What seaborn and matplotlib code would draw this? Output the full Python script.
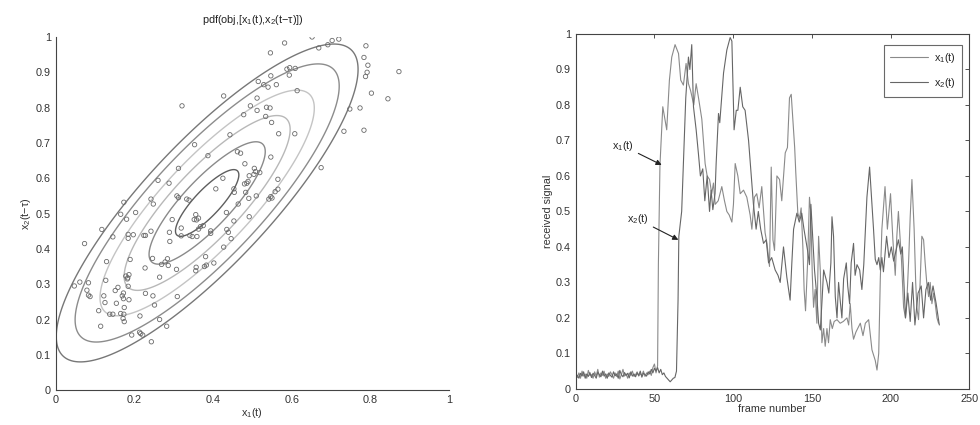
import numpy as np
import pandas as pd
import matplotlib
matplotlib.use("Agg")
import matplotlib.pyplot as plt
import seaborn as sns

# ---------------- left panel data: scatter of x1(t) vs x2(t - tau) ----------------
scatter_x1 = [0.652, 0.582, 0.703, 0.720, 0.692, 0.669, 0.789, 0.784, 0.794, 0.792, 0.788, 0.873,
              0.803, 0.845, 0.774, 0.748, 0.733, 0.784, 0.675, 0.546, 0.588, 0.595, 0.609, 0.594,
              0.614, 0.547, 0.515, 0.529, 0.540, 0.561, 0.512, 0.427, 0.321, 0.495, 0.512, 0.536,
              0.545, 0.534, 0.478, 0.549, 0.443, 0.567, 0.608, 0.462, 0.470, 0.547, 0.387, 0.481,
              0.353, 0.312, 0.425, 0.505, 0.508, 0.519, 0.504, 0.492, 0.486, 0.480, 0.489, 0.565,
              0.407, 0.453, 0.454, 0.483, 0.491, 0.510, 0.565, 0.558, 0.547, 0.542, 0.550, 0.464,
              0.434, 0.453, 0.492, 0.435, 0.439, 0.446, 0.427, 0.402, 0.381, 0.378, 0.383, 0.357,
              0.356, 0.394, 0.394, 0.368, 0.363, 0.375, 0.356, 0.352, 0.358, 0.363, 0.359, 0.347,
              0.341, 0.319, 0.319, 0.308, 0.312, 0.333, 0.339, 0.296, 0.289, 0.290, 0.307, 0.286,
              0.284, 0.278, 0.269, 0.260, 0.288, 0.242, 0.248, 0.242, 0.228, 0.224, 0.197, 0.184,
              0.184, 0.203, 0.180, 0.173, 0.165, 0.145, 0.117, 0.073, 0.129, 0.189, 0.127, 0.178,
              0.183, 0.182, 0.186, 0.227, 0.264, 0.309, 0.184, 0.151, 0.158, 0.169, 0.172, 0.186,
              0.172, 0.154, 0.174, 0.165, 0.171, 0.174, 0.173, 0.145, 0.137, 0.125, 0.122, 0.109,
              0.114, 0.083, 0.079, 0.087, 0.083, 0.061, 0.047, 0.193, 0.213, 0.216, 0.221, 0.214,
              0.243, 0.228, 0.247, 0.251, 0.264, 0.282, 0.246]
scatter_x2 = [1.000, 0.983, 0.990, 0.994, 0.978, 0.969, 0.975, 0.942, 0.920, 0.900, 0.888, 0.902,
              0.841, 0.825, 0.799, 0.796, 0.733, 0.736, 0.630, 0.955, 0.909, 0.913, 0.911, 0.892,
              0.848, 0.890, 0.874, 0.865, 0.858, 0.865, 0.827, 0.833, 0.805, 0.805, 0.792, 0.801,
              0.799, 0.775, 0.780, 0.758, 0.723, 0.726, 0.726, 0.675, 0.671, 0.660, 0.664, 0.641,
              0.695, 0.628, 0.600, 0.628, 0.619, 0.616, 0.611, 0.607, 0.586, 0.584, 0.591, 0.597,
              0.570, 0.570, 0.560, 0.560, 0.543, 0.550, 0.569, 0.562, 0.548, 0.541, 0.544, 0.527,
              0.503, 0.479, 0.491, 0.455, 0.447, 0.429, 0.405, 0.360, 0.378, 0.350, 0.354, 0.348,
              0.338, 0.451, 0.444, 0.463, 0.456, 0.466, 0.497, 0.483, 0.482, 0.487, 0.435, 0.435,
              0.438, 0.437, 0.459, 0.550, 0.545, 0.541, 0.538, 0.483, 0.447, 0.421, 0.342, 0.353,
              0.372, 0.363, 0.356, 0.594, 0.586, 0.541, 0.527, 0.450, 0.438, 0.438, 0.440, 0.441,
              0.430, 0.503, 0.484, 0.532, 0.498, 0.434, 0.455, 0.415, 0.364, 0.370, 0.311, 0.323,
              0.318, 0.315, 0.327, 0.346, 0.320, 0.265, 0.294, 0.282, 0.291, 0.267, 0.259, 0.256,
              0.275, 0.246, 0.234, 0.217, 0.203, 0.194, 0.215, 0.215, 0.215, 0.248, 0.267, 0.225,
              0.181, 0.269, 0.283, 0.265, 0.304, 0.306, 0.295, 0.156, 0.164, 0.160, 0.156, 0.210,
              0.137, 0.274, 0.267, 0.241, 0.200, 0.181, 0.373]

# fitted bivariate normal (pdf object)
pdf_mean = [0.385, 0.53]
pdf_sd = [0.192, 0.225]
pdf_rho = 0.84
contour_mahal = [0.42, 0.77, 1.1, 1.42, 1.75, 2.0]
contour_grays = ["#5e5e5e", "#8a8a8a", "#b8b8b8", "#c4c4c4", "#8c8c8c", "#777777"]

# ---------------- right panel data: received signals ----------------
x1_base = [0.035, 0.032, 0.045, 0.030, 0.050, 0.036, 0.042, 0.030, 0.052, 0.038, 0.040, 0.030,
           0.048, 0.036, 0.055, 0.033, 0.045, 0.038, 0.050, 0.030, 0.042, 0.035, 0.048, 0.040,
           0.030, 0.045, 0.035, 0.050, 0.028, 0.040, 0.055, 0.036, 0.042, 0.030, 0.045, 0.038,
           0.050, 0.035, 0.040, 0.048, 0.036, 0.043, 0.038, 0.050, 0.035, 0.045, 0.040, 0.050,
           0.038, 0.060, 0.070, 0.045, 0.065]
x2_base = [0.040, 0.038, 0.030, 0.044, 0.036, 0.048, 0.030, 0.042, 0.035, 0.046, 0.032, 0.044,
           0.038, 0.030, 0.047, 0.040, 0.034, 0.050, 0.036, 0.042, 0.030, 0.045, 0.038, 0.033,
           0.048, 0.037, 0.042, 0.030, 0.052, 0.040, 0.034, 0.046, 0.038, 0.044, 0.031, 0.048,
           0.036, 0.042, 0.034, 0.045, 0.038, 0.050, 0.033, 0.044, 0.040, 0.036, 0.048, 0.042,
           0.055, 0.045, 0.058, 0.050, 0.060, 0.045, 0.055, 0.040, 0.045, 0.035, 0.030, 0.025,
           0.020, 0.025, 0.030, 0.032]
x1_frames = [52.5, 53.5, 55.3, 57.8, 59.5, 61, 63.1, 65.3, 66.7, 68.4, 70.1, 71.6, 73, 75, 76.5, 78,
             80.1, 82.2, 83.5, 85, 86.4, 87.5, 88.6, 90.5, 92.8, 94.5, 96, 97.5, 99.2, 100.2, 101.3,
             103, 104.5, 106.6, 108.7, 110.8, 111.9, 113.5, 115, 116.5, 118.2, 120.3, 121.5, 123.1,
             124.2, 125.3, 126.3, 127.8, 129.5, 130.9, 133.1, 134.5, 135.8, 136.9, 138.4, 139.1,
             139.8, 141.1, 142.2, 143.2, 144.3, 145.1, 146, 147.3, 148.5, 149.3, 150.3, 151.1,
             152.1, 153.2, 154.3, 155.4, 156.4, 157.5, 158.5, 159.6, 160.6, 161.7, 163, 164.2, 166,
             168, 170, 172.3, 173.4, 174.4, 175.5, 176.5, 178, 180.8, 182.5, 184, 186.1, 188.2,
             190.3, 191.4, 192.5, 193.5, 194.5, 196.5, 198, 200, 201.5, 203, 204, 205, 207, 208.3,
             209.5, 210.5, 211.5, 212.5, 213.6, 215, 216, 216.7, 217.8, 218.8, 219.9, 221, 222, 223,
             224.2, 225.2, 226.3, 227.3, 228.4, 229.5, 230.5]
x1_values = [0.35, 0.63, 0.795, 0.73, 0.87, 0.935, 0.97, 0.945, 0.87, 0.856, 0.917, 0.86, 0.84, 0.80,
             0.86, 0.82, 0.76, 0.635, 0.60, 0.59, 0.55, 0.58, 0.52, 0.53, 0.57, 0.53, 0.50, 0.49,
             0.47, 0.52, 0.635, 0.60, 0.55, 0.56, 0.54, 0.49, 0.45, 0.54, 0.55, 0.51, 0.57, 0.44,
             0.41, 0.345, 0.625, 0.42, 0.39, 0.60, 0.59, 0.53, 0.665, 0.68, 0.82, 0.83, 0.73, 0.68,
             0.61, 0.495, 0.48, 0.51, 0.40, 0.28, 0.22, 0.355, 0.54, 0.50, 0.32, 0.23, 0.28, 0.185,
             0.43, 0.33, 0.13, 0.17, 0.12, 0.17, 0.13, 0.195, 0.17, 0.19, 0.195, 0.185, 0.19, 0.20,
             0.18, 0.24, 0.17, 0.14, 0.16, 0.185, 0.15, 0.185, 0.195, 0.11, 0.08, 0.053, 0.10, 0.31,
             0.45, 0.57, 0.45, 0.55, 0.42, 0.32, 0.43, 0.50, 0.36, 0.23, 0.20, 0.26, 0.36, 0.485,
             0.59, 0.45, 0.30, 0.23, 0.195, 0.30, 0.43, 0.42, 0.355, 0.30, 0.26, 0.30, 0.24, 0.27,
             0.24, 0.20, 0.185]
x2_frames = [64, 65, 65.5, 67.3, 68.4, 69.9, 71.6, 72.5, 73.7, 74.8, 76.5, 78, 79.2, 80.7, 82, 83.5,
             85, 86, 87.1, 88.5, 89.2, 90.7, 91.5, 93.9, 96, 98.1, 99.2, 100.6, 102, 103, 104.5,
             106.1, 107.6, 109.8, 111.2, 112.9, 114.6, 116, 117.5, 119.3, 121, 122.5, 124.5, 126.7,
             128.5, 129.9, 132, 134.1, 136.2, 137.3, 138.4, 140.5, 142, 143.6, 145, 147.3, 148.5,
             149.4, 150.5, 151.7, 153.2, 154.3, 155.4, 156.5, 157.5, 159.6, 160.8, 162.1, 162.8,
             163.8, 164.9, 166, 167, 168, 169.1, 170.2, 171.9, 172.8, 174, 175, 176.5, 177.5, 178.7,
             180.4, 181.8, 183, 185, 186.7, 188.2, 189.2, 190.3, 191.4, 192.5, 193.5, 194.5, 195.5,
             197.5, 199, 200.5, 202, 203.5, 205, 206.5, 207.5, 208.5, 209.5, 211, 212.5, 214, 215.5,
             217.5, 219.5, 221, 222.5, 224, 225.5, 227, 229, 231]
x2_values = [0.05, 0.25, 0.43, 0.50, 0.635, 0.82, 0.935, 0.90, 0.97, 0.795, 0.73, 0.66, 0.60, 0.62,
             0.53, 0.60, 0.50, 0.56, 0.505, 0.55, 0.635, 0.776, 0.75, 0.89, 0.955, 0.99, 0.98, 0.73,
             0.785, 0.785, 0.85, 0.795, 0.785, 0.70, 0.62, 0.52, 0.45, 0.50, 0.45, 0.41, 0.42,
             0.355, 0.37, 0.335, 0.32, 0.30, 0.40, 0.315, 0.25, 0.355, 0.45, 0.495, 0.47, 0.495,
             0.45, 0.39, 0.35, 0.52, 0.43, 0.335, 0.26, 0.185, 0.166, 0.25, 0.335, 0.30, 0.27,
             0.355, 0.485, 0.43, 0.26, 0.20, 0.30, 0.25, 0.20, 0.31, 0.355, 0.29, 0.24, 0.355, 0.41,
             0.32, 0.35, 0.335, 0.28, 0.35, 0.54, 0.625, 0.52, 0.45, 0.365, 0.35, 0.37, 0.335, 0.37,
             0.33, 0.43, 0.37, 0.40, 0.36, 0.39, 0.42, 0.38, 0.40, 0.30, 0.20, 0.27, 0.19, 0.30,
             0.18, 0.27, 0.29, 0.20, 0.28, 0.30, 0.25, 0.29, 0.24, 0.18]
series_labels = ["x$_1$(t)", "x$_2$(t)"]
series_colors = ["#8a8a8a", "#666666"]

# ---------------- figure ----------------
sns.set_theme(style="white")
plt.rcParams["font.family"] = ["Liberation Sans", "DejaVu Sans"]
plt.rcParams["mathtext.fontset"] = "custom"
plt.rcParams["mathtext.rm"] = "Liberation Sans"
plt.rcParams["mathtext.it"] = "Liberation Sans"

fig = plt.figure(figsize=(9.8, 4.25), dpi=100)
fig.patch.set_facecolor("white")
axL = fig.add_axes([0.057, 0.082, 0.401, 0.831])
axR = fig.add_axes([0.5875, 0.085, 0.4015, 0.835])

fs = 7.8
# --- left: contours + scatter
g = np.linspace(-0.1, 1.1, 400)
GX, GY = np.meshgrid(g, g)
zx = (GX - pdf_mean[0]) / pdf_sd[0]
zy = (GY - pdf_mean[1]) / pdf_sd[1]
q = (zx ** 2 - 2 * pdf_rho * zx * zy + zy ** 2) / (1 - pdf_rho ** 2)
dens = np.exp(-0.5 * q) / (2 * np.pi * pdf_sd[0] * pdf_sd[1] * np.sqrt(1 - pdf_rho ** 2))
peak = 1 / (2 * np.pi * pdf_sd[0] * pdf_sd[1] * np.sqrt(1 - pdf_rho ** 2))
levels_sorted = sorted([(peak * np.exp(-0.5 * d ** 2), c) for d, c in zip(contour_mahal, contour_grays)])
axL.contour(GX, GY, dens, levels=[l for l, _ in levels_sorted],
            colors=[c for _, c in levels_sorted], linewidths=1.0)

sdf = pd.DataFrame({"x1": scatter_x1, "x2": scatter_x2})
sns.scatterplot(data=sdf, x="x1", y="x2", ax=axL, marker="o", s=10,
                facecolors="none", edgecolor="#6a6a6a", linewidth=0.6, zorder=3)
axL.set_xlim(0, 1)
axL.set_ylim(0, 1)
axL.set_xticks([0, 0.2, 0.4, 0.6, 0.8, 1])
axL.set_xticklabels(["0", "0.2", "0.4", "0.6", "0.8", "1"])
axL.set_yticks(np.round(np.arange(0, 1.01, 0.1), 1))
axL.set_yticklabels(["0"] + [f"{v:.1f}" for v in np.arange(0.1, 0.95, 0.1)] + ["1"])
axL.set_xlabel("x$_1$(t)", fontsize=fs, labelpad=1, color="#333333")
axL.set_ylabel("x$_2$(t\u2212\u03c4)", fontsize=fs, labelpad=2, color="#333333")
axL.set_title("pdf(obj,[x$_1$(t),x$_2$(t\u2212\u03c4)])", fontsize=fs, pad=10, color="#222222")
for s in ["top", "right"]:
    axL.spines[s].set_visible(False)
for s in ["left", "bottom"]:
    axL.spines[s].set_color("#444444")
    axL.spines[s].set_linewidth(0.8)
axL.tick_params(direction="in", length=3, labelsize=fs, colors="#333333", width=0.6)

# --- right: signals
frames1 = list(np.arange(len(x1_base))) + x1_frames
vals1 = x1_base + x1_values
frames2 = list(np.arange(len(x2_base))) + x2_frames
vals2 = x2_base + x2_values
ldf = pd.DataFrame({
    "frame": frames1 + frames2,
    "value": vals1 + vals2,
    "series": [series_labels[0]] * len(frames1) + [series_labels[1]] * len(frames2),
})
sns.lineplot(data=ldf, x="frame", y="value", hue="series", palette=series_colors,
             estimator=None, sort=True, linewidth=0.8, ax=axR)
axR.set_xlim(0, 250)
axR.set_ylim(0, 1)
axR.set_xticks([0, 50, 100, 150, 200, 250])
axR.set_yticks(np.round(np.arange(0, 1.01, 0.1), 1))
axR.set_yticklabels(["0"] + [f"{v:.1f}" for v in np.arange(0.1, 0.95, 0.1)] + ["1"])
axR.set_xlabel("frame number", fontsize=fs, labelpad=0, color="#333333")
axR.set_ylabel("received signal", fontsize=fs, labelpad=2, color="#333333")
for s in axR.spines.values():
    s.set_color("#444444")
    s.set_linewidth(0.8)
axR.tick_params(direction="in", length=3, labelsize=fs, colors="#333333", width=0.6,
                top=True, right=True)
leg = axR.legend(loc="upper right", fontsize=fs, frameon=True, fancybox=False,
                 handlelength=3.5, borderpad=0.6, labelspacing=1.0, handletextpad=0.5,
                 bbox_to_anchor=(0.995, 0.985))
leg.get_frame().set_edgecolor("#444444")
leg.get_frame().set_linewidth(0.8)

axR.annotate("x$_1$(t)", xy=(54.6, 0.631), xytext=(30, 0.685), fontsize=fs, ha="center", va="center",
             arrowprops=dict(arrowstyle="-|>", color="#222222", lw=0.8, mutation_scale=8,
                             shrinkA=1, shrinkB=0))
axR.annotate("x$_2$(t)", xy=(65.2, 0.42), xytext=(39.5, 0.478), fontsize=fs, ha="center", va="center",
             arrowprops=dict(arrowstyle="-|>", color="#222222", lw=0.8, mutation_scale=8,
                             shrinkA=1, shrinkB=0))

fig.savefig("out.png", dpi=100, facecolor="white")
